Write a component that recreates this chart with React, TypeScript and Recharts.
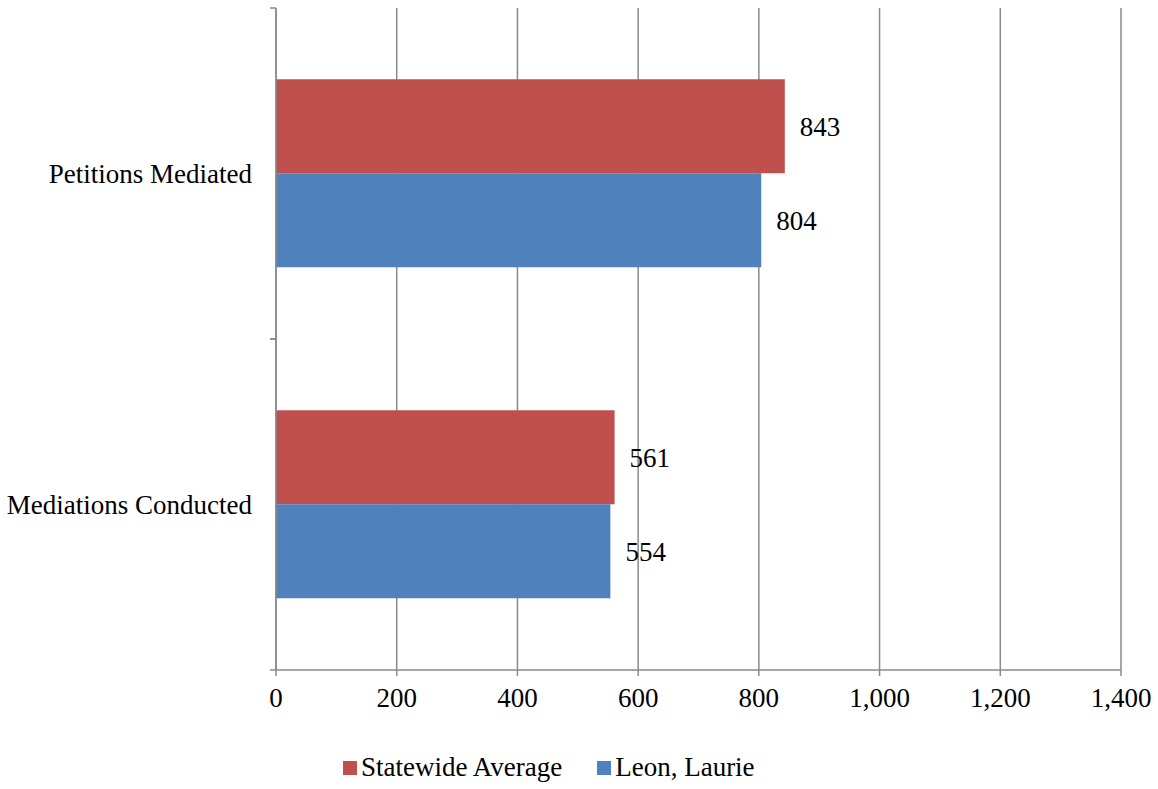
import { BarChart, Bar, XAxis, YAxis, CartesianGrid, LabelList } from "recharts";

const categories = ["Petitions Mediated", "Mediations Conducted"];
const statewide = [843, 561];
const leon = [804, 554];
const xTicks = [0, 200, 400, 600, 800, 1000, 1200, 1400];

const data = categories.map((name, i) => ({ name, statewide: statewide[i], leon: leon[i] }));

const FONT = "'Liberation Serif', 'Times New Roman', serif";
const GRID = "#8a8a8a";
const RED = "#C0504D";
const BLUE = "#4F81BD";
const FS = 27;

const fmt = (v: number) => v.toLocaleString("en-US");

// category label plus small tick marks at the band edges (Excel style)
const CatTick = (props: any) => {
  const { x, y, payload } = props;
  const half = payload?.offset ?? 0;
  return (
    <g>
      <line x1={x - 6} x2={x} y1={y - half} y2={y - half} stroke={GRID} strokeWidth={1.5} />
      <line x1={x - 6} x2={x} y1={y + half} y2={y + half} stroke={GRID} strokeWidth={1.5} />
      <text x={x - 24} y={y} textAnchor="end" dominantBaseline="central" fill="#000" fontSize={FS} fontFamily={FONT}>
        {payload.value}
      </text>
    </g>
  );
};

export default function App() {
  return (
    <div style={{ position: "absolute", left: 0, top: 0, width: 1158, height: 789, background: "#fff", fontFamily: FONT }}>
      <BarChart
        width={1158}
        height={789}
        data={data}
        layout="vertical"
        barCategoryGap="21.5%"
        barGap={0}
        margin={{ top: 8, right: 37, left: 0, bottom: 79 }}
      >
        <CartesianGrid horizontal={false} stroke={GRID} strokeWidth={1.5} />
        <XAxis
          type="number"
          domain={[0, 1400]}
          ticks={xTicks}
          interval={0}
          height={40}
          tickFormatter={fmt}
          axisLine={{ stroke: GRID, strokeWidth: 1.5 }}
          tickLine={{ stroke: GRID, strokeWidth: 1.5 }}
          tickSize={6}
          tick={{ fill: "#000", fontSize: FS, fontFamily: FONT, dy: 10 }}
        />
        <YAxis
          type="category"
          dataKey="name"
          width={276}
          axisLine={{ stroke: GRID, strokeWidth: 1.5 }}
          tickLine={false}
          tickSize={0}
          tickMargin={0}
          tick={<CatTick />}
        />
        <Bar dataKey="statewide" fill={RED} isAnimationActive={false}>
          <LabelList dataKey="statewide" position="right" offset={15} fill="#000" fontSize={FS} fontFamily={FONT} />
        </Bar>
        <Bar dataKey="leon" fill={BLUE} isAnimationActive={false}>
          <LabelList dataKey="leon" position="right" offset={15} fill="#000" fontSize={FS} fontFamily={FONT} />
        </Bar>
      </BarChart>
      <div style={{ position: "absolute", top: 752, left: 343, display: "flex", alignItems: "center", fontSize: FS, color: "#000", whiteSpace: "nowrap" }}>
        <span style={{ width: 14, height: 14, background: RED, marginRight: 4, display: "inline-block" }} />
        <span style={{ marginRight: 35 }}>Statewide Average</span>
        <span style={{ width: 14, height: 14, background: BLUE, marginRight: 4, display: "inline-block" }} />
        <span>Leon, Laurie</span>
      </div>
    </div>
  );
}
